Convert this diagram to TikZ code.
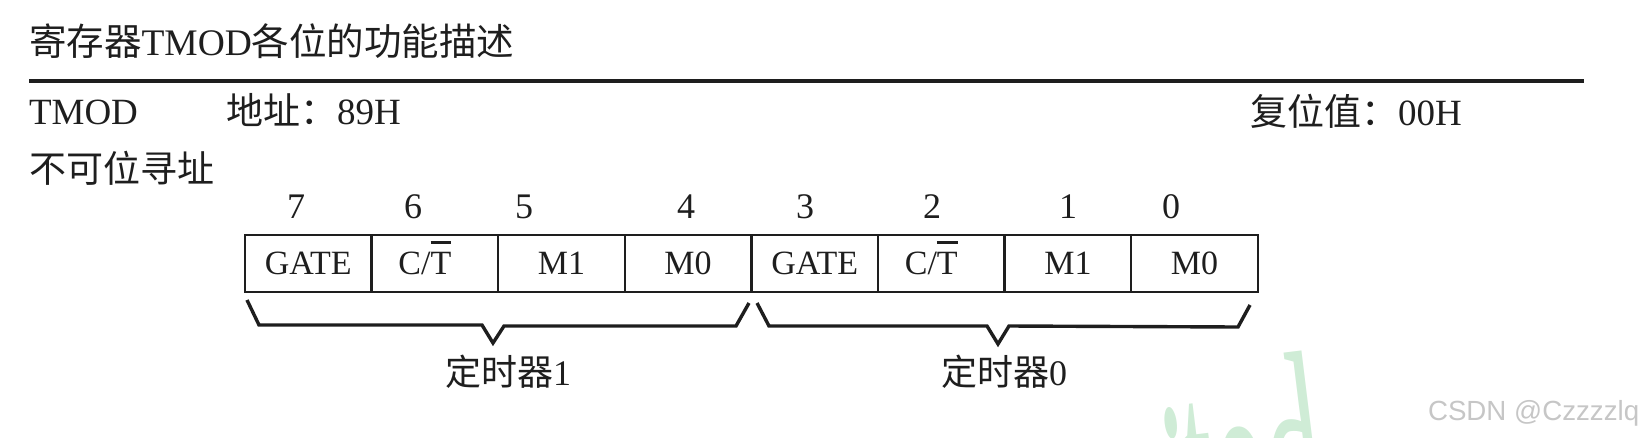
\documentclass[tikz,border=0pt]{standalone}
\usepackage{fontspec}
\setmainfont{Liberation Serif}
\newfontfamily\cjk{Noto Sans CJK SC}
\newfontfamily\wmsans{Liberation Sans}
\usetikzlibrary{calc}
\definecolor{wmgreen}{RGB}{207,236,214}
\definecolor{wmgray}{RGB}{198,198,198}
\definecolor{ink}{RGB}{30,30,30}
\newcommand\ovlT{\setbox0\hbox{T}\rlap{\rule[0.9em]{\wd0}{0.09em}}\box0}
\begin{document}
\begin{tikzpicture}[x=1pt,y=-1pt,
  every node/.style={inner sep=0pt,outer sep=0pt,text=ink},
  titletext/.style={font=\fontsize{37.5}{44}\selectfont,anchor=base west},
  body/.style={font=\fontsize{37}{44}\selectfont,anchor=base west},
  bitnum/.style={font=\fontsize{36}{40}\selectfont,anchor=base},
  cell/.style={draw=ink,line width=2.5pt,minimum width=126.6,minimum height=57,
    text height=22.5,text depth=0,font=\fontsize{34}{40}\selectfont},
  grouplabel/.style={font=\fontsize{36}{40}\selectfont,anchor=base},
  bracepath/.style={draw=ink,line width=3.4pt,line join=miter},
  rulepath/.style={draw=ink,line width=3.3pt}]
\useasboundingbox (0,0) rectangle (1645,437);

% title and rule
\node[titletext] (title) at (29,55) {{\cjk 寄存器}TMOD{\cjk 各位的功能描述}};
\coordinate (ruleL) at (29,81);
\coordinate (ruleR) at (1584,81);
\draw[rulepath] (ruleL) -- (ruleR);

% header rows
\node[body] (reg) at (29,124) {TMOD};
\node[body] (addr) at (226,124) {{\cjk 地址：}89H};
\node[body] (reset) at (1250,125) {{\cjk 复位值：}00H};
\node[body] (nobit) at (29,182) {\cjk 不可位寻址};

% bit numbers
\node[bitnum] (b7) at (296,218) {7};
\node[bitnum] (b6) at (413,218) {6};
\node[bitnum] (b5) at (524,218) {5};
\node[bitnum] (b4) at (686,218) {4};
\node[bitnum] (b3) at (805,218) {3};
\node[bitnum] (b2) at (932,218) {2};
\node[bitnum] (b1) at (1068,218) {1};
\node[bitnum] (b0) at (1171,218) {0};

% register cells
\node[cell] (c7) at (308.3,263.5) {GATE};
\node[cell] (c6) at (434.9,263.5) {C/\ovlT\hspace*{20pt}};
\node[cell] (c5) at (561.5,263.5) {M1};
\node[cell] (c4) at (688.1,263.5) {M0};
\node[cell] (c3) at (814.7,263.5) {GATE};
\node[cell] (c2) at (941.3,263.5) {C/\ovlT\hspace*{20pt}};
\node[cell] (c1) at (1067.9,263.5) {M1};
\node[cell] (c0) at (1194.5,263.5) {M0};

% braces
\coordinate (l1) at (247,300);
\coordinate (l2) at (259,325);
\coordinate (l3) at (482,325);
\coordinate (ltip) at (493,343);
\coordinate (l4) at (504,326);
\coordinate (l5) at (736,326);
\coordinate (l6) at (749,303);
\draw[bracepath] (l1) -- (l2) -- (l3) -- (ltip) -- (l4) -- (l5) -- (l6);
\coordinate (r1) at (757,303);
\coordinate (r2) at (769,326);
\coordinate (r3) at (987,326);
\coordinate (rtip) at (998,344);
\coordinate (r4) at (1009,326);
\coordinate (r5) at (1238,327);
\coordinate (r6) at (1250,305);
\draw[bracepath] (r1) -- (r2) -- (r3) -- (rtip) -- (r4) -- (r5) -- (r6);

\node[grouplabel] (t1) at (508,385) {{\cjk 定时器}1};
\node[grouplabel] (t0) at (1004,385) {{\cjk 定时器}0};

% watermarks
\begin{scope}
\clip (0,0) rectangle (1645,437);
\node[text=wmgreen,font=\fontsize{300}{310}\selectfont,rotate=7,xscale=0.38,anchor=base east] (wmg) at (1335,557) {\raisebox{-0.1em}{i}\kern-0.08em ted};
\end{scope}
\node[text=wmgray,font=\wmsans\fontsize{27.7}{32}\selectfont,anchor=base west] (wm) at (1428,420) {CSDN @Czzzzlq};
\end{tikzpicture}
\end{document}
